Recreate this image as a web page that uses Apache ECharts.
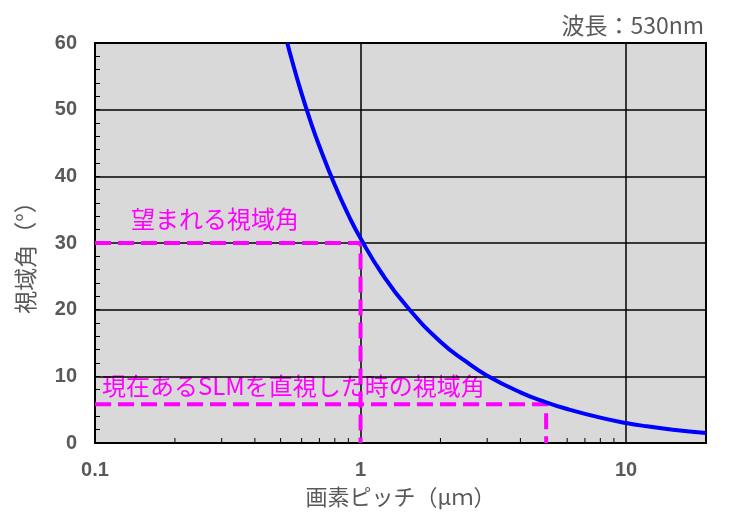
<!DOCTYPE html>
<html><head><meta charset="utf-8">
<script src="https://cdn.jsdelivr.net/npm/echarts@6/dist/echarts.min.js"></script>
<style>html,body{margin:0;padding:0;background:#fff}#c{width:731px;height:518px}</style>
</head><body><div id="c"></div>
<script>
// Pixel pitch (μm) and viewing angle (deg)
const pitch = [0.53, 0.55, 0.6, 0.65, 0.7, 0.8, 0.9, 1.0, 1.2, 1.5, 2, 2.5, 3, 4, 5, 6, 8, 10, 12, 15, 20];
const angle = [60.0, 57.6, 52.4, 48.1, 44.5, 38.7, 34.2, 30.7, 25.5, 20.4, 15.2, 12.2, 10.1, 7.6, 6.1, 5.1, 3.8, 3.0, 2.5, 2.0, 1.5];
// Guide lines
const desiredPitch = 1, desiredAngle = 30;
const currentPitch = 5, currentAngle = 5.8;
const xMinorTicks = [0.2,0.3,0.4,0.5,0.6,0.7,0.8,0.9,2,3,4,5,6,7,8,9];
const xTickLabels = ['0.1','1','10'];
const labelDesired = '望まれる視域角';
const labelCurrent = '現在あるSLMを直視した時の視域角';
const titleText = '波長：530nm';
const xName = '画素ピッチ（μｍ）';
const yName = '視域角（°）';

const numFont = "'Liberation Sans Narrow','Liberation Sans',Arial,sans-serif";
const jpFont = "'Noto Sans CJK JP',sans-serif";
const gray = '#595959';

const chart = echarts.init(document.getElementById('c'), null, {renderer:'canvas'});
chart.setOption({
  animation:false,
  backgroundColor:'#fff',
  grid:{left:95,right:25,top:43,bottom:75,show:true,backgroundColor:'#d9d9d9',borderColor:'#000',borderWidth:2,containLabel:false},
  title:{text:titleText,right:22,top:9,textStyle:{fontFamily:jpFont,fontSize:23,fontWeight:'normal',color:gray}},
  xAxis:{type:'log',logBase:10,min:0.1,max:20,
    name:xName,nameLocation:'middle',nameGap:43,
    nameTextStyle:{fontFamily:jpFont,fontSize:22,color:gray},
    axisLine:{show:true,lineStyle:{color:'#000',width:2}},
    axisTick:{show:false},
    axisLabel:{margin:17,fontFamily:numFont,fontSize:20,fontWeight:'bold',color:gray,
      formatter:function(v){const s=String(+v.toPrecision(3));return xTickLabels.indexOf(s)>=0?s:'';}},
    splitLine:{show:true,lineStyle:{color:'#000',width:1.5}}
  },
  yAxis:{type:'value',min:0,max:60,interval:10,
    name:yName,nameLocation:'middle',nameGap:58,nameRotate:90,
    nameTextStyle:{fontFamily:jpFont,fontSize:23,color:gray,padding:[0,0,0,-18]},
    axisLine:{show:true,lineStyle:{color:'#000',width:2}},
    axisTick:{show:true,inside:true,length:5,lineStyle:{color:'#000'}},
    minorTick:{show:true,splitNumber:5,length:5,lineStyle:{color:'#000'}},
    axisLabel:{margin:18,fontFamily:numFont,fontSize:20,fontWeight:'bold',color:gray},
    splitLine:{show:true,lineStyle:{color:'#000',width:1.5}}
  },
  series:[
    {type:'custom',silent:true,z:3,
      data:xMinorTicks.map(v=>[v]),
      renderItem:function(params,api){
        const p=api.coord([api.value(0),0]);
        return {type:'line',shape:{x1:p[0],y1:p[1],x2:p[0],y2:p[1]-5},style:{stroke:'#000',lineWidth:1}};
      }},
    {type:'line',data:[[0.1,desiredAngle],[desiredPitch,desiredAngle],[desiredPitch,0]],
      symbol:'none',z:4,lineStyle:{color:'#ff00ff',width:4,type:[16,7]}},
    {type:'line',data:[[0.1,currentAngle],[currentPitch,currentAngle],[currentPitch,0]],
      symbol:'none',z:4,lineStyle:{color:'#ff00ff',width:4,type:[16,7]}},
    {type:'line',data:pitch.map((p,i)=>[p,angle[i]]),smooth:true,symbol:'none',z:5,
      lineStyle:{color:'#0000ff',width:4}}
  ],
  graphic:[
    {type:'text',left:131,top:207,style:{text:labelDesired,fontFamily:jpFont,fontSize:24,fill:'#ff00ff'}},
    {type:'text',left:102,top:374,style:{text:labelCurrent,fontFamily:jpFont,fontSize:24,fill:'#ff00ff'}}
  ]
});
</script></body></html>
